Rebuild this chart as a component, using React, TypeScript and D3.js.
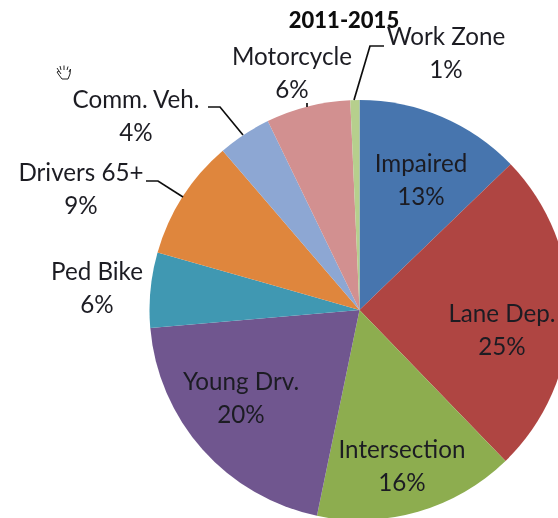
import React from "react";
import * as d3 from "d3";

const categories = ["Impaired", "Lane Dep.", "Intersection", "Young Drv.", "Ped Bike", "Drivers 65+", "Comm. Veh.", "Motorcycle", "Work Zone"];
// slice shares, the printed labels are rounded
const shares = [12.8, 25, 15.5, 20.4, 5.8, 9.3, 4.1, 6.5, 0.7];
const percentLabels = ["13%", "25%", "16%", "20%", "6%", "9%", "4%", "6%", "1%"];
const colors = ["#4675ae", "#af4542", "#8dad50", "#70578f", "#3f98b2", "#df863e", "#8da7d3", "#d29090", "#b6cf8d"];

const title = "2011-2015";

// label anchor (centre of the two lines) per category
const labelPos: [number, number][] = [
  [421, 179], [502, 329], [402, 465], [241, 397], [97, 287],
  [81, 188], [136, 115], [292, 72], [446, 52],
];
// leader lines for the labels outside the pie
const leaders: [number, number][][] = [
  [[146, 181], [158, 181], [183, 197]],
  [[208, 107], [220, 107], [243, 135]],
  [[307, 103], [307, 107]],
  [[384, 46], [370, 46], [354, 100]],
];

const width = 558, height = 518;
const cx = 359.5, cy = 310, radius = 210;

export default function App() {
  const pie = d3.pie<number>().sort(null).value(d => d);
  const arc = d3.arc<d3.PieArcDatum<number>>().innerRadius(0).outerRadius(radius);
  const arcs = pie(shares);
  const line = d3.line();

  return (
    <svg width={width} height={height} style={{ position: "absolute", left: 0, top: 0, background: "#fff" }}>
      <defs>
        <filter id="soft" x="-5%" y="-5%" width="110%" height="110%">
          <feGaussianBlur stdDeviation="0.45" />
        </filter>
      </defs>
      <g filter="url(#soft)">
        <g transform={`translate(${cx},${cy})`}>
          {arcs.map((d, i) => (
            <path key={categories[i]} d={arc(d) as string} fill={colors[i]} />
          ))}
        </g>
        {leaders.map((pts, i) => (
          <path key={i} d={line(pts) as string} fill="none" stroke="#111" strokeWidth={1.7} />
        ))}
        <text x={344} y={28} textAnchor="middle" fontFamily="Lato" fontWeight={900} fontSize={22} fill="#111">
          {title}
        </text>
        <g fontFamily="Lato" fontSize={24.2} fill="#1c1c24" textAnchor="middle">
          {categories.map((c, i) => (
            <text key={c} x={labelPos[i][0]} y={labelPos[i][1]}>
              <tspan x={labelPos[i][0]} dy={-7}>{c}</tspan>
              <tspan x={labelPos[i][0]} dy={33}>{percentLabels[i]}</tspan>
            </text>
          ))}
        </g>
        {/* stray hand cursor from the screenshot */}
        <g transform="translate(56,64)" fill="#fff" stroke="#222" strokeWidth={1}>
          <path d="M3 7 L1 4 M5 6 L4 2 M8 6 L8 1.5 M11 6 L12 2.5 M13 8 L14.5 5 L14 10 L12 15 L6 15 L3 11 L1 8 L3 7 L5 10" />
        </g>
      </g>
    </svg>
  );
}
